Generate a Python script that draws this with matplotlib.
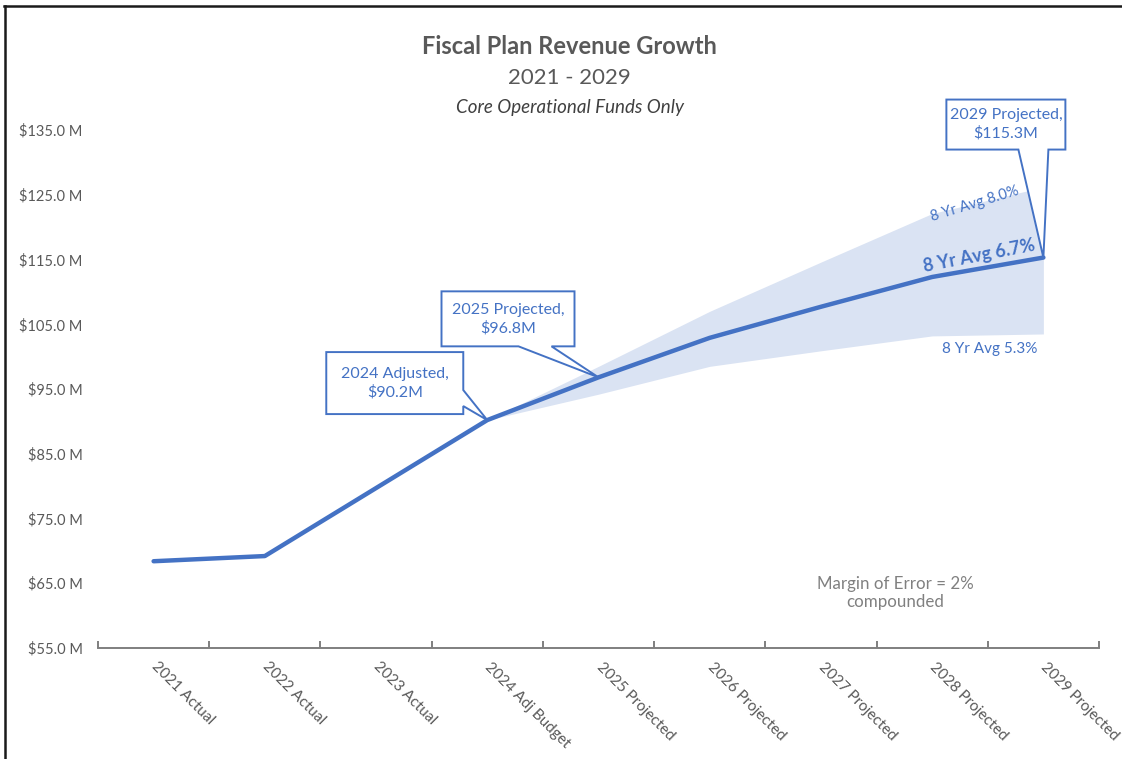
import matplotlib
matplotlib.use("Agg")
from matplotlib import pyplot as plt
from matplotlib.lines import Line2D
from matplotlib.patches import Polygon
from matplotlib.transforms import Affine2D

plt.rcParams['font.family'] = ['Lato', 'DejaVu Sans']

# ---------------- data ----------------
categories = ['2021 Actual', '2022 Actual', '2023 Actual', '2024 Adj Budget',
              '2025 Projected', '2026 Projected', '2027 Projected',
              '2028 Projected', '2029 Projected']
revenue = [68.4, 69.2, 79.7, 90.2, 96.8, 102.9, 107.7, 112.3, 115.3]

# margin of error band, starting at 2024 Adj Budget
band_start = 3
band_high = [90.2, 98.5, 107.0, 114.6, 122.1, 126.2]
band_low = [90.2, 94.2, 98.5, 100.9, 103.2, 103.5]

y_ticks = [55, 65, 75, 85, 95, 105, 115, 125, 135]

callouts = [(3, '2024 Adjusted,\n$90.2M'),
            (4, '2025 Projected,\n$96.8M'),
            (8, '2029 Projected,\n$115.3M')]

BLUE = '#4472C4'
BAND = '#DAE3F3'
GREY = '#595959'

fig = plt.figure(figsize=(11.22, 7.59), dpi=100)
ax = fig.add_axes([98/1122, 1-648/759, (1099-98)/1122, (648-130)/759])

x = list(range(len(categories)))
xb = x[band_start:]
ax.fill_between(xb, band_low, band_high, color=BAND, lw=0, zorder=1)
ax.plot(x, revenue, color=BLUE, lw=3.2, solid_capstyle='round', zorder=3)

ax.set_xlim(-0.5, len(categories) - 0.5)
ax.set_ylim(55, 135)

# axes styling
for s in ['top', 'right', 'left']:
    ax.spines[s].set_visible(False)
ax.spines['bottom'].set_color('#7F7F7F')
ax.spines['bottom'].set_linewidth(1.4)

ax.set_yticks(y_ticks)
ax.set_yticklabels(['$%.1f M' % v for v in y_ticks])
ax.tick_params(axis='y', length=0, pad=11, labelsize=10.5, labelcolor=GREY)

ax.set_xticks(x)
ax.set_xticklabels(categories, rotation=-45, ha='left', va='center',
                   rotation_mode='anchor')
ax.tick_params(axis='x', which='major', length=0, pad=12, labelsize=11,
               labelcolor=GREY)
ax.set_xticks([i - 0.5 for i in range(len(categories) + 1)], minor=True)
ax.tick_params(axis='x', which='minor', direction='in', length=5,
               width=1.4, color='#7F7F7F')

# callout shapes, pixel offsets from the data point (y down):
# box left, right, top, bottom, wedge side and wedge base
shapes = {3: (-161, -24, -68, -6, 'right', (-30, -14)),
          4: (-157, -24, -86, -31, 'bottom', (-47, -80)),
          8: (-97, 22, -158, -108, 'bottom', (5, -25))}
for i, label in callouts:
    l, r, t, b, side, (w1, w2) = shapes[i]
    if side == 'right':
        pts = [(l, t), (r, t), (r, w1), (0, 0), (r, w2), (r, b), (l, b)]
    else:
        pts = [(l, t), (r, t), (r, b), (w1, b), (0, 0), (w2, b), (l, b)]
    pts = [(px, -py) for px, py in pts]
    tx, ty = ax.transData.transform((x[i], revenue[i]))
    tr = Affine2D().translate(tx, ty)
    ax.add_patch(Polygon(pts, closed=True, fc='white', ec=BLUE, lw=1.4,
                         transform=tr, clip_on=False, zorder=6))
    ax.text((l + r) / 2, -(t + b) / 2, label, transform=tr, ha='center',
            va='center', fontsize=11.5, color=BLUE, linespacing=1.35,
            zorder=7, clip_on=False)

# band labels
ax.text(7.38, 123.6, '8 Yr Avg 8.0%', color=BLUE, fontsize=10.5,
        rotation=17, ha='center', va='center', zorder=5)
ax.text(7.42, 115.6, '8 Yr Avg 6.7%', color=BLUE, fontsize=13,
        fontweight='bold', rotation=11, ha='center', va='center', zorder=5)
ax.text(7.52, 101.2, '8 Yr Avg 5.3%', color=BLUE, fontsize=11,
        ha='center', va='center', zorder=5)

ax.text(6.67, 63.5, 'Margin of Error = 2%\ncompounded', color='#808080',
        fontsize=12.2, ha='center', va='center', linespacing=1.2)

# titles
fig.text(0.5076, 1-47/759, 'Fiscal Plan Revenue Growth', ha='center',
         va='center', fontsize=17, fontweight='bold', color=GREY)
fig.text(0.5076, 1-78/759, '2021 - 2029', ha='center', va='center',
         fontsize=16, color=GREY)
fig.text(0.5076, 1-107/759, 'Core Operational Funds Only', ha='center',
         va='center', fontsize=13.5, style='italic', color='#404040')

# outer frame (left and top only)
fig.add_artist(Line2D([5/1122, 5/1122], [0, 1-6/759], color='#1A1A1A',
                      lw=1.8, transform=fig.transFigure))
fig.add_artist(Line2D([4/1122, 1], [1-6/759, 1-6/759], color='#1A1A1A',
                      lw=1.8, transform=fig.transFigure))

fig.savefig('out.png', dpi=100)
